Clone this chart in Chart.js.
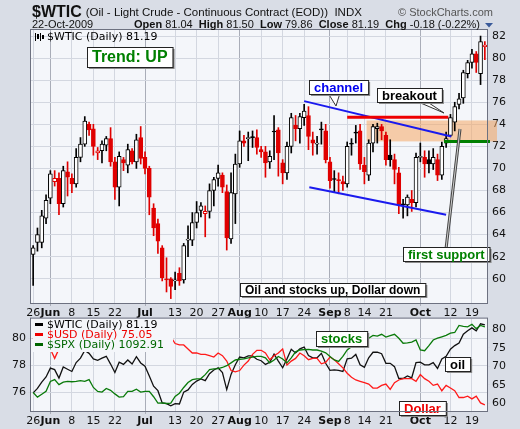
<!DOCTYPE html>
<html>
<head>
<meta charset="utf-8">
<script src="https://cdn.jsdelivr.net/npm/chart.js@4.4.0/dist/chart.umd.min.js"></script>
<style>
  body { margin: 0; background: #d9dde6; width: 520px; height: 429px; position: relative; overflow: hidden; }
  canvas { position: absolute; left: 0; }
</style>
</head>
<body>
<canvas id="mainChart" width="520" height="320" style="top:0;"></canvas>
<canvas id="relChart" width="520" height="119" style="top:310px;"></canvas>
<script>
// trading days 26-May-2009 .. 22-Oct-2009
const dates = [
  'May 26', 'May 27', 'May 28', 'May 29',
  'Jun 1', 'Jun 2', 'Jun 3', 'Jun 4', 'Jun 5', 'Jun 8', 'Jun 9', 'Jun 10', 'Jun 11', 'Jun 12',
  'Jun 15', 'Jun 16', 'Jun 17', 'Jun 18', 'Jun 19', 'Jun 22', 'Jun 23', 'Jun 24', 'Jun 25', 'Jun 26', 'Jun 29', 'Jun 30',
  'Jul 1', 'Jul 2', 'Jul 6', 'Jul 7', 'Jul 8', 'Jul 9', 'Jul 10', 'Jul 13', 'Jul 14', 'Jul 15', 'Jul 16', 'Jul 17',
  'Jul 20', 'Jul 21', 'Jul 22', 'Jul 23', 'Jul 24', 'Jul 27', 'Jul 28', 'Jul 29', 'Jul 30', 'Jul 31',
  'Aug 3', 'Aug 4', 'Aug 5', 'Aug 6', 'Aug 7', 'Aug 10', 'Aug 11', 'Aug 12', 'Aug 13', 'Aug 14',
  'Aug 17', 'Aug 18', 'Aug 19', 'Aug 20', 'Aug 21', 'Aug 24', 'Aug 25', 'Aug 26', 'Aug 27', 'Aug 28', 'Aug 31',
  'Sep 1', 'Sep 2', 'Sep 3', 'Sep 4', 'Sep 8', 'Sep 9', 'Sep 10', 'Sep 11', 'Sep 14', 'Sep 15', 'Sep 16', 'Sep 17', 'Sep 18',
  'Sep 21', 'Sep 22', 'Sep 23', 'Sep 24', 'Sep 25', 'Sep 28', 'Sep 29', 'Sep 30',
  'Oct 1', 'Oct 2', 'Oct 5', 'Oct 6', 'Oct 7', 'Oct 8', 'Oct 9', 'Oct 12', 'Oct 13', 'Oct 14', 'Oct 15', 'Oct 16',
  'Oct 19', 'Oct 20', 'Oct 21', 'Oct 22'
];

// axis labels: index -> text
const tickLabels = { 0: '26', 4: 'Jun', 9: '8', 14: '15', 19: '22', 26: 'Jul', 33: '13', 38: '20', 43: '27',
  48: 'Aug', 53: '10', 58: '17', 63: '24', 69: 'Sep', 73: '8', 77: '14', 82: '21', 90: 'Oct', 97: '12', 102: '19' };
const monthTicks = [4, 26, 48, 69, 90];
const priceTicks = [60, 62, 64, 66, 68, 70, 72, 74, 76, 78, 80, 82];

const wticOpen = [
  62.2, 63.3, 63.3, 65.5, 67.3, 68.8, 69.1, 66.8, 69.7, 69.1, 68.6, 71.0, 72.2, 74.0, 73.6, 71.4, 71.6, 72.1, 72.7, 70.6,
  68.3, 70.8, 70.3, 71.6, 70.6, 72.8, 71.0, 70.0, 66.4, 65.0, 62.8, 59.9, 60.0, 59.8, 60.5, 59.9, 63.5, 63.5, 65.1, 66.2,
  65.9, 66.1, 68.0, 69.1, 69.4, 67.9, 63.6, 67.7, 70.4, 72.5, 72.7, 72.8, 72.8, 71.7, 71.5, 70.6, 73.3, 73.5, 70.5, 69.6,
  72.0, 73.9, 73.6, 74.6, 74.8, 72.6, 72.2, 73.5, 73.4, 70.6, 69.0, 68.9, 68.8, 68.6, 72.2, 73.2, 73.4, 70.3, 69.4, 72.3,
  73.6, 73.8, 73.0, 71.2, 70.8, 69.6, 66.7, 66.7, 67.2, 66.9, 71.0, 71.0, 70.8, 70.4, 70.8, 69.4, 72.3, 73.0, 74.2, 75.8,
  76.4, 78.6, 79.6, 80.4, 78.6, 81.04
];
const wticHigh = [
  63.0, 64.6, 66.2, 67.6, 69.8, 69.8, 69.6, 70.2, 70.6, 69.5, 71.8, 72.8, 74.7, 74.2, 74.0, 71.9, 72.5, 72.9, 73.7, 71.0,
  71.5, 71.0, 72.2, 71.8, 73.1, 73.8, 71.5, 70.2, 66.8, 65.4, 63.0, 61.9, 60.1, 60.6, 61.0, 63.2, 64.8, 66.0, 67.0, 66.9,
  66.6, 68.6, 69.2, 70.3, 69.6, 68.5, 69.6, 71.3, 73.4, 73.0, 73.3, 73.4, 73.5, 72.0, 72.0, 71.6, 74.8, 73.7, 70.8, 72.4,
  75.0, 74.8, 75.0, 75.8, 75.6, 73.3, 72.9, 74.2, 74.0, 71.0, 69.8, 69.6, 69.3, 72.4, 72.7, 73.9, 74.0, 71.0, 72.6, 74.0,
  74.1, 74.0, 73.3, 72.6, 71.3, 70.1, 67.2, 67.6, 68.0, 71.4, 72.3, 71.6, 71.6, 71.8, 71.3, 72.4, 73.3, 74.9, 76.0, 76.8,
  78.9, 79.8, 80.8, 80.6, 82.0, 81.50
];
const wticLow = [
  59.4, 62.5, 62.8, 65.0, 66.8, 68.4, 65.8, 66.5, 67.5, 67.8, 68.3, 70.6, 72.0, 73.0, 71.2, 70.8, 70.5, 71.6, 70.2, 67.2,
  66.6, 69.8, 69.6, 70.4, 70.0, 70.4, 69.5, 65.8, 63.9, 62.3, 59.8, 58.8, 58.2, 59.0, 59.4, 59.6, 62.0, 63.0, 64.6, 65.6,
  63.8, 65.5, 66.6, 68.4, 67.8, 62.6, 63.2, 65.0, 70.1, 72.0, 70.7, 71.9, 71.3, 71.0, 69.2, 70.0, 70.8, 69.3, 68.6, 69.0,
  71.4, 72.5, 72.3, 73.9, 71.7, 71.2, 71.3, 72.2, 70.5, 68.2, 67.8, 67.7, 68.0, 68.3, 71.2, 72.3, 69.9, 68.6, 68.9, 71.5,
  72.3, 72.6, 70.3, 70.2, 68.6, 65.9, 65.5, 65.7, 66.1, 66.5, 70.6, 69.2, 69.6, 69.9, 68.9, 69.0, 71.9, 72.9, 73.4, 75.4,
  75.9, 78.2, 79.1, 78.7, 77.6, 79.86
];
const wticClose = [
  62.8, 64.0, 65.7, 67.1, 69.5, 69.1, 66.8, 69.8, 69.2, 68.6, 71.0, 72.2, 74.3, 73.5, 72.0, 71.6, 72.2, 72.7, 70.6, 68.3,
  71.1, 70.5, 71.7, 70.6, 72.6, 70.9, 70.0, 67.4, 64.6, 63.4, 60.1, 59.9, 59.3, 59.9, 59.8, 63.0, 63.6, 65.1, 66.0, 66.6,
  66.1, 68.0, 69.0, 69.6, 68.3, 63.7, 67.8, 70.4, 72.5, 72.3, 72.8, 72.8, 71.9, 71.5, 70.5, 71.1, 73.3, 71.4, 69.6, 72.0,
  74.6, 73.6, 74.7, 75.2, 72.9, 72.3, 72.3, 73.5, 70.8, 68.9, 69.0, 68.9, 68.6, 72.0, 72.2, 73.2, 70.4, 69.7, 72.3, 73.8,
  73.8, 73.4, 70.8, 70.8, 69.9, 66.7, 66.7, 67.4, 66.9, 71.0, 71.1, 70.4, 70.4, 71.0, 69.4, 72.0, 72.7, 74.6, 75.6, 76.3,
  78.7, 79.6, 80.4, 79.6, 81.5, 81.19
];

const usdClose = [
  80.0, 79.6, 79.8, 79.3, 79.2, 78.5, 79.2, 79.5, 79.8, 79.6, 79.9, 80.2, 80.5, 80.3, 80.4, 80.0, 80.2, 80.3, 80.0, 80.1,
  80.2, 80.0, 79.8, 80.1, 79.9, 79.5, 80.0, 80.3, 80.5, 80.6, 79.7, 79.9, 80.1, 79.6, 79.5, 79.5, 79.2, 78.9, 78.9, 78.8,
  78.8, 78.7, 78.6, 78.9, 78.7, 78.3, 77.6, 77.5, 77.6, 78.0, 78.3, 78.8, 79.1, 79.1, 78.9, 78.4, 78.7, 78.9, 79.2, 78.0,
  78.3, 78.5, 78.9, 78.7, 78.4, 78.5, 78.5, 78.1, 78.2, 78.6, 78.4, 78.1, 77.8, 77.4, 77.1, 76.9, 76.8, 76.7, 76.6, 76.3,
  76.3, 76.5, 76.6, 76.2, 76.7, 76.9, 77.0, 77.0, 77.0, 76.8, 77.3, 77.0, 76.8, 76.5, 76.6, 76.1, 76.5, 76.3, 76.1, 75.6,
  75.6, 75.7, 75.5, 75.7, 75.2, 75.05
];
const spxClose = [
  909, 896, 904, 912, 940, 945, 931, 938, 940, 939, 940, 942, 940, 945, 923, 912, 910, 920, 915, 905,
  896, 897, 912, 912, 918, 910, 912, 912, 897, 879, 880, 878, 879, 898, 907, 923, 937, 945, 947, 948,
  959, 973, 975, 976, 979, 984, 992, 1000, 1002, 1003, 1006, 1008, 1010, 1010, 1006, 992, 1000, 1010, 1003, 992,
  1006, 1023, 1028, 1029, 1030, 1028, 1028, 1025, 1020, 1010, 1000, 996, 1010, 1028, 1037, 1047, 1047, 1054, 1061, 1069,
  1067, 1072, 1064, 1068, 1072, 1061, 1047, 1048, 1050, 1056, 1028, 1026, 1040, 1056, 1061, 1065, 1069, 1075, 1077, 1097,
  1094, 1093, 1100, 1088, 1097, 1092.91
];

const PLOT_BG = '#f4f6fa';
const GRID = '#d3d7e0';
const GRID_MONTH = '#a9adb8';
const TICK_FONT = { family: 'DejaVu Sans', size: 11 };

// StockCharts style: colour from close vs previous close, fill from close vs open
const candleColor = wticClose.map((c, i) => (i > 0 && c < wticClose[i - 1] ? '#e00000' : '#000000'));
const candleFill = wticClose.map((c, i) => (c > wticOpen[i] ? '#ffffff' : candleColor[i]));

function xAxis() {
  return {
    type: 'category',
    offset: true,
    grid: {
      offset: false,
      drawTicks: true,
      tickLength: 3,
      color: (c) => (tickLabels[c.index] === undefined ? 'transparent' : (monthTicks.includes(c.index) ? GRID_MONTH : GRID)),
    },
    border: { display: false },
    ticks: {
      autoSkip: false,
      maxRotation: 0,
      padding: 1,
      color: '#111',
      font: (c) => ({ family: 'DejaVu Sans', size: 11, weight: monthTicks.includes(c.index) ? 'bold' : 'normal' }),
      callback: (v, i) => tickLabels[i] || '',
    },
    afterFit: (s) => { s.height = 16; },
  };
}

function calloutBox(ctx, x, y, text, color, size, h) {
  ctx.save();
  ctx.font = 'bold ' + size + 'px "Liberation Sans"';
  const w = ctx.measureText(text).width + 10;
  ctx.fillStyle = '#8a8a8a';
  ctx.fillRect(x + 2, y + 2, w, h);
  ctx.fillStyle = '#ffffff';
  ctx.fillRect(x, y, w, h);
  ctx.strokeStyle = '#222';
  ctx.lineWidth = 1;
  ctx.strokeRect(x + 0.5, y + 0.5, w, h);
  ctx.fillStyle = color;
  ctx.textBaseline = 'middle';
  ctx.fillText(text, x + 5, y + h / 2 + 1);
  ctx.restore();
}

function pointer(ctx, pts) {
  ctx.save();
  ctx.beginPath();
  ctx.moveTo(pts[0][0], pts[0][1]);
  pts.slice(1).forEach((p) => ctx.lineTo(p[0], p[1]));
  ctx.closePath();
  ctx.fillStyle = '#ffffff';
  ctx.fill();
  ctx.strokeStyle = '#333';
  ctx.lineWidth = 1;
  ctx.stroke();
  ctx.restore();
}

// writes text pieces left to right: [text, bold, color]
function textRun(ctx, x, y, parts, size) {
  parts.forEach((p) => {
    ctx.font = (p[1] ? 'bold ' : '') + size + 'px "Liberation Sans"';
    ctx.fillStyle = p[2] || '#111';
    ctx.fillText(p[0], x, y);
    x += ctx.measureText(p[0]).width;
  });
  return x;
}

const panelBg = {
  id: 'panelBg',
  beforeDraw(chart) {
    const { ctx, chartArea: a } = chart;
    ctx.save();
    ctx.fillStyle = PLOT_BG;
    ctx.fillRect(a.left, a.top, a.right - a.left, a.bottom - a.top);
    ctx.restore();
  },
  afterDraw(chart) {
    const { ctx, chartArea: a } = chart;
    ctx.save();
    ctx.strokeStyle = '#6d7180';
    ctx.lineWidth = 1;
    ctx.strokeRect(a.left - 0.5, a.top - 0.5, a.right - a.left + 1, a.bottom - a.top + 1);
    ctx.restore();
  },
};

const header = {
  id: 'header',
  afterDraw(chart) {
    const { ctx } = chart;
    ctx.save();
    ctx.textBaseline = 'alphabetic';
    let x = textRun(ctx, 32, 17, [['$WTIC', true]], 16);
    textRun(ctx, x + 4, 16, [['(Oil - Light Crude - Continuous Contract (EOD))  INDX', false]], 11.5);
    textRun(ctx, 398, 16, [['© StockCharts.com', false, '#555']], 11);
    textRun(ctx, 32, 28, [['22-Oct-2009', false]], 11);
    x = textRun(ctx, 134, 28, [['Open', true], [' 81.04  ', false], ['High', true], [' 81.50  ', false],
      ['Low', true], [' 79.86  ', false], ['Close', true], [' 81.19  ', false], ['Chg', true], [' -0.18 (-0.22%)', false]], 11);
    ctx.fillStyle = '#3a5a9a';
    ctx.beginPath();
    ctx.moveTo(x + 5, 23); ctx.lineTo(x + 13, 23); ctx.lineTo(x + 9, 27.5); ctx.closePath();
    ctx.fill();
    ctx.restore();
  },
};

// annotations for the price panel, placed through the chart's scales
const priceNotes = {
  id: 'priceNotes',
  beforeDatasetsDraw(chart) {
    const { ctx } = chart;
    const x = chart.scales.x;
    const y = chart.scales.y;
    ctx.save();
    ctx.fillStyle = 'rgba(245, 168, 100, 0.55)';
    const x0 = x.getPixelForValue(77.5);
    ctx.fillRect(x0, y.getPixelForValue(74.35), 497 - x0, y.getPixelForValue(72.45) - y.getPixelForValue(74.35));
    ctx.restore();
  },
  afterDatasetsDraw(chart) {
    const { ctx } = chart;
    const x = chart.scales.x;
    const y = chart.scales.y;
    const line = (i0, p0, i1, p1, color, width) => {
      ctx.beginPath();
      ctx.moveTo(x.getPixelForValue(i0), y.getPixelForValue(p0));
      ctx.lineTo(x.getPixelForValue(i1), y.getPixelForValue(p1));
      ctx.strokeStyle = color;
      ctx.lineWidth = width;
      ctx.stroke();
    };
    ctx.save();
    line(63, 76.1, 97.2, 72.9, '#1a1aee', 2);
    line(64.2, 68.3, 96, 65.8, '#1a1aee', 2);
    line(73, 74.65, 96.5, 74.65, '#ee0000', 3);
    ctx.beginPath();
    ctx.moveTo(x.getPixelForValue(95.5), y.getPixelForValue(72.45));
    ctx.lineTo(490, y.getPixelForValue(72.45));
    ctx.strokeStyle = '#008000';
    ctx.lineWidth = 3;
    ctx.stroke();

    // pointer from "first support" up to the zone
    ctx.beginPath();
    ctx.moveTo(446, 249);
    ctx.lineTo(460, 129);
    ctx.strokeStyle = '#444';
    ctx.lineWidth = 3;
    ctx.stroke();
    ctx.beginPath();
    ctx.moveTo(446, 249);
    ctx.lineTo(460, 129);
    ctx.strokeStyle = '#cfcfcf';
    ctx.lineWidth = 1;
    ctx.stroke();

    pointer(ctx, [[328, 93], [340, 93], [336, 106]]);
    calloutBox(ctx, 309, 80, 'channel', '#0000ee', 13, 14);
    pointer(ctx, [[416, 101], [426, 101], [444, 113]]);
    calloutBox(ctx, 377, 88, 'breakout', '#000', 13, 14);
    calloutBox(ctx, 403, 247, 'first support', '#008000', 13, 14);
    calloutBox(ctx, 240, 283, 'Oil and stocks up, Dollar down', '#000', 12, 13);
    calloutBox(ctx, 87, 47, 'Trend: UP', '#008000', 16, 20);

    // legend
    ctx.fillStyle = '#000';
    ctx.fillRect(35, 33, 1, 8); ctx.fillRect(37, 34, 2, 5); ctx.fillRect(40, 33, 1, 8); ctx.fillRect(42, 35, 2, 4);
    ctx.font = '11px "DejaVu Sans"';
    ctx.textBaseline = 'middle';
    ctx.fillText('$WTIC (Daily) 81.19', 47, 37);
    ctx.restore();
  },
};

const relNotes = {
  id: 'relNotes',
  afterDatasetsDraw(chart) {
    const { ctx } = chart;
    ctx.save();
    const a = chart.chartArea;
    ctx.fillStyle = PLOT_BG;
    ctx.fillRect(a.left + 2, 9, 140, 33);
    const rows = [['$WTIC (Daily) 81.19', '#000'], ['$USD (Daily) 75.05', '#ee0000'], ['$SPX (Daily) 1092.91', '#006600']];
    ctx.font = '11px "DejaVu Sans"';
    ctx.textBaseline = 'middle';
    rows.forEach((r, k) => {
      const yy = 14 + k * 10;
      ctx.fillStyle = r[1];
      ctx.fillRect(35, yy - 1, 8, 3);
      ctx.fillText(r[0], 47, yy + 1);
    });
    calloutBox(ctx, 316, 21, 'stocks', '#008000', 13, 15);
    calloutBox(ctx, 445, 47, 'oil', '#000', 13, 14);
    calloutBox(ctx, 399, 91, 'Dollar', '#ee0000', 13, 14);
    ctx.restore();
  },
};

const mainChart = new Chart(document.getElementById('mainChart'), {
  type: 'bar',
  data: {
    labels: dates,
    datasets: [
      {
        label: 'body',
        data: wticOpen.map((o, i) => [o, wticClose[i]]),
        backgroundColor: candleFill,
        borderColor: candleColor,
        borderWidth: 1,
        borderSkipped: false,
        barThickness: 4,
        minBarLength: 1,
        order: 0,
      },
      {
        label: 'wick',
        data: wticLow.map((l, i) => [l, wticHigh[i]]),
        backgroundColor: candleColor,
        borderWidth: 0,
        barThickness: 1,
        order: 1,
      },
    ],
  },
  options: {
    responsive: false,
    animation: false,
    layout: { padding: { left: 31, top: 30, right: 1, bottom: 1 } },
    datasets: { bar: { grouped: false } },
    plugins: { legend: { display: false }, tooltip: { enabled: false } },
    scales: {
      x: xAxis(),
      y: {
        position: 'right',
        min: 57.8,
        max: 82.55,
        afterBuildTicks: (s) => { s.ticks = priceTicks.map((v) => ({ value: v })); },
        grid: { color: GRID, tickLength: 3 },
        border: { display: false },
        ticks: { color: '#111', font: TICK_FONT, padding: 2 },
        afterFit: (s) => { s.width = 32; },
      },
    },
  },
  plugins: [panelBg, priceNotes, header],
});

const relChart = new Chart(document.getElementById('relChart'), {
  type: 'line',
  data: {
    labels: dates,
    datasets: [
      { label: '$SPX', data: spxClose, yAxisID: 'ySpx', borderColor: '#0a7a0a', borderWidth: 1.3, pointRadius: 0 },
      { label: '$USD', data: usdClose, yAxisID: 'yUsd', borderColor: '#ff1a1a', borderWidth: 1.3, pointRadius: 0 },
      { label: '$WTIC', data: wticClose, yAxisID: 'y', borderColor: '#111', borderWidth: 1.3, pointRadius: 0 },
    ],
  },
  options: {
    responsive: false,
    animation: false,
    layout: { padding: { left: 0, top: 8, right: 1, bottom: 2 } },
    plugins: { legend: { display: false }, tooltip: { enabled: false } },
    scales: {
      x: xAxis(),
      yUsd: {
        position: 'left',
        min: 74.6,
        max: 81.45,
        afterBuildTicks: (s) => { s.ticks = [76, 78, 80].map((v) => ({ value: v })); },
        grid: { color: GRID, tickLength: 3 },
        border: { display: false },
        ticks: { color: '#111', font: TICK_FONT, padding: 2 },
        afterFit: (s) => { s.width = 31; },
      },
      y: {
        position: 'right',
        min: 57.9,
        max: 82.9,
        afterBuildTicks: (s) => { s.ticks = [60, 65, 70, 75, 80].map((v) => ({ value: v })); },
        grid: { drawOnChartArea: false, tickLength: 3, color: GRID },
        border: { display: false },
        ticks: { color: '#111', font: TICK_FONT, padding: 2 },
        afterFit: (s) => { s.width = 32; },
      },
      ySpx: { display: false, min: 857, max: 1116 },
    },
  },
  plugins: [panelBg, relNotes],
});
</script>
</body>
</html>
